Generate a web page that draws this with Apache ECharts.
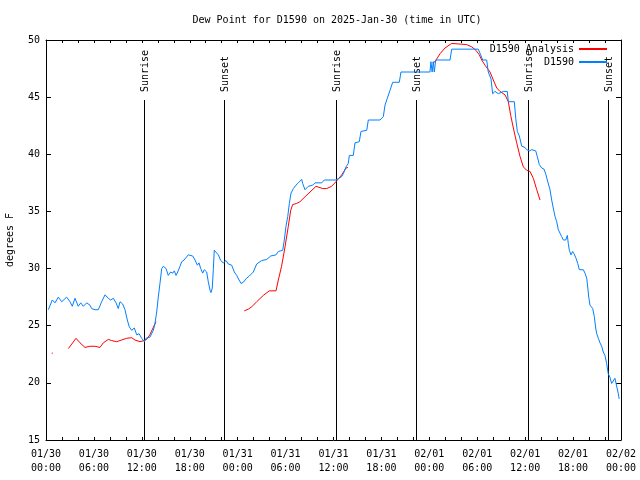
<!DOCTYPE html>
<html>
<head>
<meta charset="utf-8">
<script src="https://cdn.jsdelivr.net/npm/echarts@6/dist/echarts.min.js"></script>
<style>html,body{margin:0;padding:0;background:#fff}#c{width:640px;height:480px}</style>
</head>
<body>
<div id="c"></div>
<script>
const titleText = 'Dew Point for D1590 on 2025-Jan-30 (time in UTC)';
const yName = 'degrees F';
const dayLabels = ['01/30', '01/31', '02/01', '02/02'];

// hours since 2025-01-30 00:00 UTC
const obsHours = [0.29,0.79,1.13,1.54,1.97,2.59,3.0,3.29,3.63,4.04,4.35,4.67,5.1,5.5,5.72,6.14,6.55,6.97,7.39,7.8,8.1,8.43,8.77,9.05,9.27,9.6,9.89,10.18,10.43,10.73,11.06,11.36,11.65,11.98,12.31,12.52,13.02,13.44,13.65,13.86,14.06,14.27,14.49,14.69,15.03,15.31,15.61,15.87,16.07,16.28,16.49,16.78,16.99,17.28,17.82,18.37,18.66,18.95,19.16,19.37,19.62,19.82,20.12,20.32,20.54,20.66,20.82,20.95,21.07,21.29,21.58,21.88,22.2,22.54,22.83,23.25,23.58,23.88,24.17,24.42,24.71,25.04,25.46,25.96,26.38,27.01,27.64,28.14,28.8,29.09,29.64,29.84,30.05,30.27,30.47,30.68,30.97,31.3,31.59,32.02,32.14,32.43,32.85,33.4,33.68,34.52,34.85,36.31,37.03,37.23,37.57,37.85,37.98,38.48,38.69,39.23,39.44,40.16,40.36,41.82,42.24,42.45,42.74,43.08,43.41,44.24,44.45,48.08,48.2,48.35,48.5,48.62,48.8,50.59,50.8,54.13,54.43,54.68,55.18,55.38,55.72,55.93,56.22,56.64,57.26,57.76,57.89,58.64,58.82,59.02,59.27,59.57,59.98,60.19,60.52,60.82,61.32,61.52,61.77,62.07,62.36,62.61,62.77,62.9,63.02,63.11,63.32,63.52,63.74,63.95,64.15,64.36,64.57,64.78,65.08,65.28,65.4,65.53,65.74,65.95,66.12,66.37,66.58,66.78,67.28,67.49,67.71,67.83,67.96,68.12,68.46,68.66,68.83,68.96,69.16,69.37,69.58,69.78,69.99,70.2,70.4,70.61,70.83,71.03,71.24,71.45,71.65,71.77];
const obsValues = [26.4,27.25,27.0,27.5,27.1,27.5,27.1,26.7,27.4,26.7,27.0,26.7,27.0,26.8,26.5,26.4,26.4,27.1,27.7,27.4,27.25,27.4,27.0,26.5,27.1,26.9,26.4,25.5,24.9,24.6,24.8,24.2,24.3,23.9,23.6,23.9,24.0,24.6,25.2,26.2,27.5,28.7,30.0,30.2,30.0,29.4,29.7,29.6,29.8,29.4,29.7,30.2,30.6,30.75,31.2,31.1,30.75,30.3,30.5,30.0,29.6,29.9,29.7,28.85,28.1,27.9,28.3,29.9,31.6,31.6,31.2,30.7,30.5,30.7,30.4,30.3,29.7,29.4,29.0,28.7,28.8,29.1,29.35,29.7,30.4,30.7,30.8,31.1,31.2,31.5,31.6,32.5,33.7,34.55,35.7,36.6,37.0,37.3,37.5,37.8,37.45,36.9,37.2,37.3,37.5,37.5,37.75,37.75,38.05,38.3,38.9,39.2,39.9,39.9,41.0,41.1,42.0,42.1,43.0,43.0,43.3,44.3,44.9,45.6,46.3,46.3,47.2,47.2,48.1,47.2,48.1,47.2,48.25,48.25,49.2,49.2,48.7,48.25,48.25,47.2,46.6,45.3,45.5,45.3,45.5,45.5,44.6,44.6,43.15,42.0,41.6,40.7,40.6,40.4,40.3,40.4,40.3,39.8,39.1,38.8,38.7,38.2,37.75,37.9,37.6,36.9,36.0,35.3,34.55,34.1,33.4,33.1,32.8,32.5,32.5,32.9,32.2,31.6,31.2,31.5,31.3,30.9,30.45,29.9,29.9,29.6,29.15,28.4,27.5,26.8,26.5,25.8,24.8,24.3,23.9,23.5,23.2,22.7,22.4,21.7,20.8,20.5,19.95,19.95,20.4,20.4,19.1,18.6];

const anaHours = [0.72,0.86,1.5,2.8,3.76,4.26,4.88,5.5,6.14,6.76,7.18,7.8,8.22,8.85,9.47,10.1,10.73,11.14,11.77,12.27,12.6,13.0,13.4,13.77,20.0,24.83,25.33,25.76,26.38,26.59,27.21,27.96,28.8,29.09,29.5,29.93,30.34,30.64,30.89,31.39,31.8,32.31,33.06,33.81,34.65,35.15,35.77,36.31,37.03,37.57,37.8,44.0,48.4,48.71,49.34,49.96,50.8,52.68,53.31,53.84,54.26,54.56,54.97,55.6,56.01,56.44,56.85,57.48,57.89,58.19,58.52,58.94,59.36,59.77,60.19,60.61,61.02,61.45,61.86];
const anaValues = [22.6,22.6,null,23.0,23.9,23.5,23.1,23.2,23.2,23.1,23.5,23.8,23.7,23.6,23.75,23.9,23.95,23.75,23.6,23.7,23.8,24.2,24.8,25.35,null,26.3,26.45,26.65,27.1,27.2,27.65,28.05,28.05,29.0,30.2,31.9,33.7,35.1,35.6,35.7,35.85,36.2,36.7,37.2,37.0,37.0,37.2,37.6,38.2,38.8,38.85,null,48.0,48.1,48.8,49.3,49.7,49.6,49.4,49.1,48.7,48.25,47.8,47.2,46.5,45.8,45.5,45.2,44.6,43.4,42.3,41.0,39.8,38.9,38.6,38.5,37.9,36.9,36.0];

const sunHours = [12.27, 22.29, 36.31, 46.33, 60.36, 70.38];
const sunLabels = ['Sunrise', 'Sunset', 'Sunrise', 'Sunset', 'Sunrise', 'Sunset'];

const FONT = '"DejaVu Sans Mono", monospace';
const Y_MIN = 15, Y_MAX = 50;

const chart = echarts.init(document.getElementById('c'), null, {renderer: 'canvas'});
const pair = (xs, ys) => xs.map((x, i) => [x, ys[i] === null ? '-' : ys[i]]);
const pad = n => (n < 10 ? '0' : '') + n;

const axisLineStyle = {lineStyle: {color: '#000', width: 1}};
const xCommon = {
  type: 'value', min: 0, max: 72, interval: 6,
  axisLine: Object.assign({show: true, onZero: false}, axisLineStyle),
  axisTick: {show: true, inside: true, length: 3, lineStyle: {color: '#000'}},
  minorTick: {show: true, splitNumber: 3, length: 3, lineStyle: {color: '#000'}},
  splitLine: {show: false}
};
const yCommon = {
  type: 'value', min: Y_MIN, max: Y_MAX, interval: 5,
  axisLine: Object.assign({show: true, onZero: false}, axisLineStyle),
  axisTick: {show: true, inside: true, length: 5, lineStyle: {color: '#000'}},
  splitLine: {show: false}
};

chart.setOption({
  animation: false,
  backgroundColor: '#fff',
  title: {
    text: titleText, left: 332, top: 10, textAlign: 'center',
    textStyle: {fontFamily: FONT, fontSize: 10, fontWeight: 'normal', color: '#000'}
  },
  legend: {
    data: ['D1590 Analysis', 'D1590'],
    orient: 'vertical', align: 'right', right: 32, top: 44, padding: 0,
    itemWidth: 28, itemHeight: 10, itemGap: 3,
    itemStyle: {opacity: 0, borderWidth: 0},
    textStyle: {fontFamily: FONT, fontSize: 10, color: '#000'}
  },
  grid: {left: 46, right: 19, top: 40, bottom: 40, containLabel: false, outerBoundsMode: 'none'},
  xAxis: [
    Object.assign({}, xCommon, {
      position: 'bottom',
      axisLabel: {
        show: true, margin: 7, color: '#000', fontFamily: FONT, fontSize: 10, lineHeight: 14,
        formatter: v => dayLabels[Math.floor(v / 24)] + '\n' + pad(v % 24) + ':00'
      }
    }),
    Object.assign({}, xCommon, {position: 'top', axisLabel: {show: false}})
  ],
  yAxis: [
    Object.assign({}, yCommon, {
      position: 'left', name: yName, nameLocation: 'middle', nameGap: 31,
      nameTextStyle: {fontFamily: FONT, fontSize: 10, color: '#000'},
      axisLabel: {show: true, margin: 6, color: '#000', fontFamily: FONT, fontSize: 10}
    }),
    Object.assign({}, yCommon, {position: 'right', axisLabel: {show: false}})
  ],
  series: [
    {
      name: 'D1590 Analysis', type: 'line', data: pair(anaHours, anaValues),
      symbol: 'none', showSymbol: false, connectNulls: false,
      lineStyle: {color: '#ff0000', width: 1}, itemStyle: {color: '#ff0000'}, z: 3
    },
    {
      name: 'D1590', type: 'line', data: pair(obsHours, obsValues),
      symbol: 'none', showSymbol: false,
      lineStyle: {color: '#0080ff', width: 1}, itemStyle: {color: '#0080ff'}, z: 4
    },
    {
      name: 'sun', type: 'custom', data: sunHours.map(h => [h]),
      encode: {x: 0}, z: 2, silent: true,
      renderItem: function (params, api) {
        const h = api.value(0);
        const p0 = api.coord([h, Y_MIN]);
        const p1 = api.coord([h, Y_MIN + 0.85 * (Y_MAX - Y_MIN)]);
        const pt = api.coord([h, Y_MIN + 0.87 * (Y_MAX - Y_MIN)]);
        const xx = Math.round(p0[0]) + 0.5;
        return {
          type: 'group',
          children: [
            {type: 'line', shape: {x1: xx, y1: p0[1], x2: xx, y2: p1[1]},
             style: {stroke: '#000', lineWidth: 1}},
            {type: 'text', x: xx + 1, y: pt[1], rotation: Math.PI / 2,
             style: {text: sunLabels[params.dataIndex], textAlign: 'left', textVerticalAlign: 'middle',
                     font: '10px ' + FONT, fill: '#000'}}
          ]
        };
      }
    }
  ]
});
</script>
</body>
</html>
